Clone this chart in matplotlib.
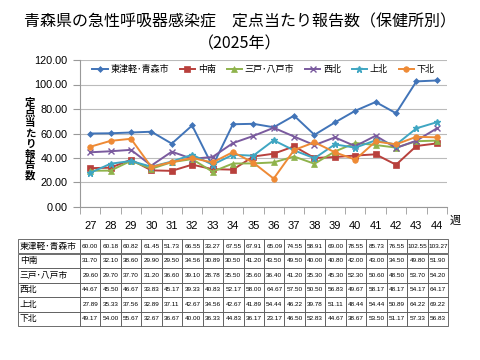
import matplotlib
matplotlib.use("Agg")
import matplotlib.pyplot as plt
from matplotlib.ticker import FormatStrFormatter, FixedLocator
import numpy as np

plt.rcParams['font.family'] = ['Noto Sans CJK JP', 'DejaVu Sans']

weeks = [27, 28, 29, 30, 31, 32, 33, 34, 35, 36, 37, 38, 39, 40, 41, 42, 43, 44]
names = ['東津軽･青森市', '中南', '三戸･八戸市', '西北', '上北', '下北']
higashitsugaru = [60.00, 60.18, 60.82, 61.45, 51.73, 66.55, 33.27, 67.55, 67.91, 65.09, 74.55, 58.91, 69.00, 78.55, 85.73, 76.55, 102.55, 103.27]
chunan = [31.70, 32.10, 38.60, 29.90, 29.50, 34.56, 30.89, 30.50, 41.20, 43.50, 49.50, 40.00, 40.80, 42.00, 43.00, 34.50, 49.80, 51.90]
sannohe = [29.60, 29.70, 37.70, 31.20, 36.60, 39.10, 28.78, 35.50, 35.60, 36.40, 41.20, 35.30, 45.30, 52.30, 50.60, 48.50, 53.70, 54.20]
seihoku = [44.67, 45.50, 46.67, 33.83, 45.17, 39.33, 40.83, 52.17, 58.00, 64.67, 57.50, 50.50, 56.83, 49.67, 58.17, 48.17, 54.17, 64.17]
kamikita = [27.89, 35.33, 37.56, 32.89, 37.11, 42.67, 34.56, 42.67, 41.89, 54.44, 46.22, 39.78, 51.11, 48.44, 54.44, 50.89, 64.22, 69.22]
shimokita = [49.17, 54.00, 55.67, 32.67, 36.67, 40.00, 36.33, 44.83, 36.17, 23.17, 46.50, 52.83, 44.67, 38.67, 53.50, 51.17, 57.33, 56.83]
series = [higashitsugaru, chunan, sannohe, seihoku, kamikita, shimokita]

colors = ['#4174b8', '#b8403c', '#8fb34c', '#7a5a9e', '#3fa6c2', '#ee8a35']
markers = ['D', 's', '^', 'x', '*', 'o']
msizes = [3, 4, 4, 5, 5, 4]

fig = plt.figure(figsize=(4.8, 3.6), dpi=100)
ax = fig.add_axes([80/480, 1-207/360, 367/480, 147/360])

x = np.arange(len(weeks))
for name, vals, c, m, ms in zip(names, series, colors, markers, msizes):
    ax.plot(x, vals, color=c, marker=m, markersize=ms, linewidth=1.4, label=name,
            markeredgewidth=1.0 if m in ('x', '*') else 0.5)

tickfont = 'Liberation Sans'
ax.set_xlim(-0.5, len(weeks) - 0.5)
ax.set_ylim(0, 120)
ax.set_yticks(np.arange(0, 121, 20))
ax.yaxis.set_major_formatter(FormatStrFormatter('%.2f'))
ax.set_xticks(x)
ax.set_xticklabels([str(w) for w in weeks])
ax.xaxis.set_minor_locator(FixedLocator(np.arange(-0.5, len(weeks), 1)))
ax.tick_params(axis='x', which='major', length=0, labelsize=8, pad=10, labelfontfamily=tickfont)
ax.tick_params(axis='x', which='minor', length=5, color='#999999')
ax.tick_params(axis='y', length=5, color='#999999', labelsize=7.8, pad=4, labelfontfamily=tickfont)
ax.grid(axis='y', color='#bbbbbb', linewidth=0.8)
ax.set_axisbelow(True)
for s in ['top', 'right']:
    ax.spines[s].set_visible(False)
ax.spines['left'].set_color('#999999')
ax.spines['bottom'].set_color('#999999')

leg = ax.legend(loc='upper center', ncol=6, frameon=False, fontsize=6.5,
                bbox_to_anchor=(0.5, 1.02), handlelength=1.7, columnspacing=1.2,
                handletextpad=0.3)

fig.text(0.5, 1-22/360, '青森県の急性呼吸器感染症　定点当たり報告数（保健所別）', ha='center', va='center', fontsize=11.5)
fig.text(0.5, 1-44/360, '（2025年）', ha='center', va='center', fontsize=11.5)
fig.text(455/480, 1-221/360, '週', ha='center', va='center', fontsize=8)
fig.text(30/480, 1-139/360, '定\n点\n当\nた\nり\n報\n告\n数', ha='center', va='center',
         fontsize=7.5, fontweight='bold', linespacing=1.05)

# table
tax = fig.add_axes([18/480, 1-326/360, 430/480, 87/360])
tax.axis('off')
cell_text = [[f'{v:.2f}' for v in vals] for vals in series]
rows = [[n] + r for n, r in zip(names, cell_text)]
first_w = 62/430
other_w = (1 - first_w) / len(weeks)
tbl = tax.table(cellText=rows, bbox=[0, 0, 1, 1], colWidths=[first_w] + [other_w]*len(weeks),
                cellLoc='center')
tbl.auto_set_font_size(False)
for (r, c), cell in tbl.get_celld().items():
    cell.set_linewidth(0.6)
    cell.set_edgecolor('#555555')
    cell.PAD = 0.03
    if c == 0:
        cell.set_text_props(fontsize=6.3, ha='left')
        cell._loc = 'left'
    else:
        cell.set_text_props(fontsize=4.6, family=tickfont)

fig.savefig('out.png', dpi=100)
